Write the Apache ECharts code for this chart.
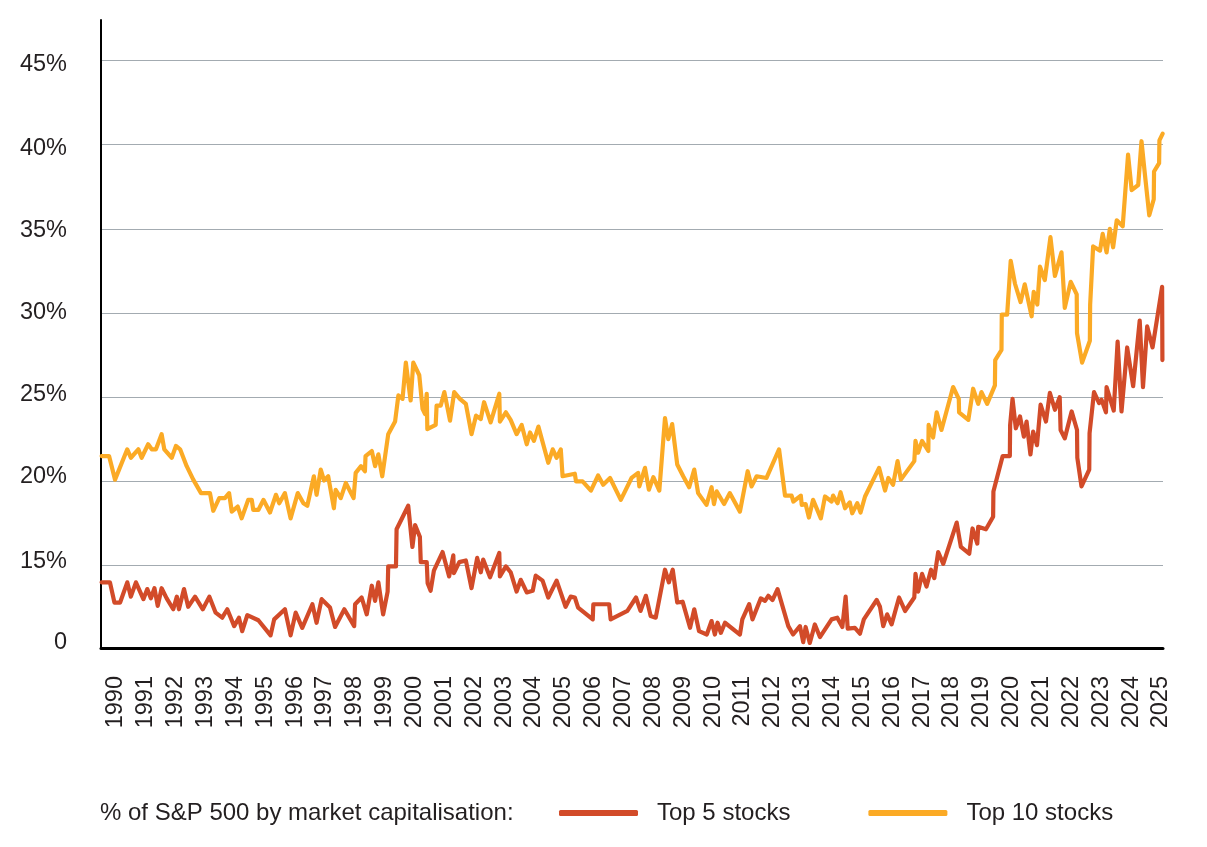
<!DOCTYPE html>
<html>
<head>
<meta charset="utf-8">
<title>S&amp;P 500 concentration</title>
<script src="https://cdn.jsdelivr.net/npm/echarts@6/dist/echarts.min.js"></script>
<style>
  html, body { margin: 0; padding: 0; background: #fff; }
  #chart { width: 1207px; height: 847px; }
</style>
</head>
<body>
<div id="chart"></div>
<script>
// share of S&P 500 market cap (decimal years, %)
const top5Years = [
  1990.02, 1990.30, 1990.45, 1990.64, 1990.88, 1991.00, 1991.17, 1991.42, 1991.55, 1991.67,
  1991.79, 1991.90, 1992.03, 1992.20, 1992.42, 1992.54, 1992.61, 1992.78, 1992.92, 1993.15,
  1993.41, 1993.63, 1993.84, 1994.06, 1994.23, 1994.46, 1994.62, 1994.73, 1994.90, 1995.27,
  1995.68, 1995.80, 1996.16, 1996.35, 1996.52, 1996.74, 1997.08, 1997.22, 1997.39, 1997.67,
  1997.84, 1998.15, 1998.48, 1998.51, 1998.73, 1998.90, 1999.07, 1999.18, 1999.29, 1999.45,
  1999.60, 1999.62, 1999.88, 1999.90, 2000.29, 2000.43, 2000.52, 2000.68, 2000.71, 2000.91,
  2000.94, 2001.04, 2001.15, 2001.44, 2001.66, 2001.80, 2001.82, 2002.00, 2002.22, 2002.41,
  2002.60, 2002.72, 2002.80, 2003.03, 2003.34, 2003.36, 2003.56, 2003.72, 2003.92, 2004.06,
  2004.26, 2004.46, 2004.56, 2004.79, 2004.98, 2005.26, 2005.56, 2005.73, 2005.87, 2005.98,
  2006.47, 2006.49, 2007.02, 2007.07, 2007.63, 2007.92, 2008.07, 2008.25, 2008.41, 2008.58,
  2008.89, 2009.02, 2009.15, 2009.30, 2009.48, 2009.73, 2009.87, 2010.03, 2010.29, 2010.45,
  2010.56, 2010.65, 2010.76, 2010.90, 2011.40, 2011.48, 2011.71, 2011.82, 2012.10, 2012.24,
  2012.35, 2012.49, 2012.66, 2013.02, 2013.18, 2013.41, 2013.52, 2013.60, 2013.74, 2013.91,
  2014.08, 2014.47, 2014.66, 2014.83, 2014.94, 2015.01, 2015.25, 2015.42, 2015.55, 2015.98,
  2016.09, 2016.20, 2016.33, 2016.48, 2016.73, 2016.93, 2017.24, 2017.28, 2017.37, 2017.50,
  2017.65, 2017.80, 2017.91, 2018.04, 2018.21, 2018.66, 2018.80, 2019.08, 2019.19, 2019.35,
  2019.38, 2019.64, 2019.88, 2019.89, 2020.20, 2020.44, 2020.45, 2020.53, 2020.64, 2020.78,
  2020.91, 2021.00, 2021.13, 2021.22, 2021.35, 2021.47, 2021.65, 2021.78, 2021.95, 2022.11,
  2022.14, 2022.28, 2022.51, 2022.69, 2022.70, 2022.84, 2023.10, 2023.11, 2023.26, 2023.43,
  2023.51, 2023.66, 2023.68, 2023.92, 2024.05, 2024.18, 2024.37, 2024.57, 2024.79, 2024.90,
  2025.04, 2025.22, 2025.54, 2025.55
];
const top5Share = [
  14.0, 14.0, 12.8, 12.8, 14.0, 13.15, 14.0, 13.0, 13.6, 13.05,
  13.65, 12.6, 13.65, 13.05, 12.4, 13.15, 12.4, 13.6, 12.55, 13.15,
  12.4, 13.15, 12.2, 11.9, 12.4, 11.4, 11.9, 11.1, 12.05, 11.75,
  10.85, 11.8, 12.4, 10.85, 12.2, 11.3, 12.7, 11.6, 13.0, 12.5,
  11.35, 12.4, 11.4, 12.7, 13.1, 12.1, 13.8, 12.9, 14.0, 12.1,
  13.45, 14.95, 14.95, 17.15, 18.55, 16.1, 17.4, 16.7, 15.2, 15.2,
  13.95, 13.5, 14.7, 15.8, 14.35, 15.6, 14.55, 15.2, 15.3, 13.65,
  15.45, 14.6, 15.35, 14.3, 15.75, 14.35, 14.95, 14.6, 13.45, 14.15,
  13.4, 13.5, 14.4, 14.1, 13.1, 14.1, 12.55, 13.15, 13.1, 12.5,
  11.8, 12.7, 12.7, 11.8, 12.3, 13.1, 12.3, 13.2, 12.0, 11.9,
  14.75, 14.0, 14.75, 12.8, 12.85, 11.3, 12.4, 11.1, 10.9, 11.7,
  10.9, 11.6, 11.0, 11.6, 10.9, 11.8, 12.7, 11.8, 13.05, 12.9,
  13.2, 12.95, 13.6, 11.4, 10.9, 11.4, 10.45, 11.35, 10.4, 11.5,
  10.75, 11.8, 11.9, 11.35, 13.15, 11.25, 11.3, 10.95, 11.8, 12.95,
  12.55, 11.4, 12.1, 11.5, 13.1, 12.3, 13.1, 14.5, 13.45, 14.5,
  13.75, 14.75, 14.25, 15.8, 15.1, 17.55, 16.1, 15.7, 17.2, 16.3,
  17.3, 17.15, 17.9, 19.4, 21.5, 21.5, 23.35, 24.9, 23.15, 23.85,
  22.65, 23.55, 21.6, 22.95, 22.15, 24.55, 23.55, 25.25, 24.25, 25.0,
  23.05, 22.55, 24.15, 23.05, 21.4, 19.7, 20.7, 22.85, 25.3, 24.65,
  24.85, 24.1, 25.6, 24.2, 28.3, 24.15, 27.95, 25.65, 29.55, 25.6,
  29.2, 27.95, 31.55, 27.2
];

const top10Years = [
  1990.02, 1990.27, 1990.47, 1990.88, 1991.00, 1991.25, 1991.36, 1991.58, 1991.70, 1991.84,
  1992.03, 1992.12, 1992.37, 1992.51, 1992.65, 1992.87, 1993.09, 1993.35, 1993.65, 1993.76,
  1993.96, 1994.15, 1994.29, 1994.38, 1994.58, 1994.71, 1994.93, 1995.05, 1995.10, 1995.27,
  1995.44, 1995.66, 1995.86, 1995.97, 1996.16, 1996.35, 1996.59, 1996.78, 1996.91, 1997.13,
  1997.22, 1997.36, 1997.47, 1997.61, 1997.80, 1997.86, 1998.03, 1998.20, 1998.46, 1998.53,
  1998.71, 1998.84, 1998.86, 1999.07, 1999.18, 1999.29, 1999.42, 1999.62, 1999.85, 1999.96,
  2000.10, 2000.21, 2000.37, 2000.46, 2000.66, 2000.77, 2000.85, 2000.91, 2000.93, 2001.21,
  2001.24, 2001.38, 2001.50, 2001.69, 2001.83, 2002.02, 2002.22, 2002.41, 2002.56, 2002.72,
  2002.83, 2003.05, 2003.34, 2003.36, 2003.56, 2003.72, 2003.92, 2004.09, 2004.26, 2004.37,
  2004.50, 2004.65, 2004.98, 2005.13, 2005.26, 2005.40, 2005.46, 2005.87, 2005.91, 2006.13,
  2006.41, 2006.65, 2006.82, 2007.05, 2007.41, 2007.77, 2007.99, 2008.03, 2008.22, 2008.35,
  2008.50, 2008.70, 2008.89, 2009.00, 2009.13, 2009.30, 2009.50, 2009.70, 2009.87, 2010.00,
  2010.28, 2010.45, 2010.53, 2010.62, 2010.87, 2011.06, 2011.40, 2011.66, 2011.79, 2011.96,
  2012.29, 2012.71, 2012.91, 2013.13, 2013.19, 2013.44, 2013.47, 2013.60, 2013.71, 2013.85,
  2014.11, 2014.25, 2014.47, 2014.52, 2014.67, 2014.77, 2014.92, 2015.08, 2015.16, 2015.33,
  2015.44, 2015.59, 2016.06, 2016.26, 2016.37, 2016.53, 2016.68, 2016.79, 2017.24, 2017.28,
  2017.37, 2017.50, 2017.71, 2017.72, 2017.87, 2017.99, 2018.15, 2018.54, 2018.73, 2018.74,
  2019.05, 2019.21, 2019.38, 2019.49, 2019.68, 2019.94, 2019.95, 2020.16, 2020.17, 2020.35,
  2020.47, 2020.61, 2020.80, 2020.94, 2021.17, 2021.24, 2021.36, 2021.45, 2021.61, 2021.80,
  2021.95, 2022.17, 2022.28, 2022.48, 2022.68, 2022.69, 2022.86, 2023.12, 2023.13, 2023.23,
  2023.46, 2023.55, 2023.68, 2023.79, 2023.90, 2024.02, 2024.22, 2024.40, 2024.52, 2024.74,
  2024.85, 2024.96, 2025.11, 2025.26, 2025.27, 2025.44, 2025.45, 2025.56
];
const top10Share = [
  21.5, 21.5, 20.1, 21.9, 21.4, 21.9, 21.4, 22.2, 21.9, 21.9,
  22.8, 21.9, 21.4, 22.1, 21.9, 20.9, 20.1, 19.3, 19.3, 18.25,
  19.0, 19.0, 19.3, 18.2, 18.5, 17.8, 18.9, 18.9, 18.3, 18.3,
  18.9, 18.15, 19.2, 18.7, 19.3, 17.8, 19.3, 18.7, 18.55, 20.3,
  19.2, 20.7, 20.05, 20.3, 18.4, 19.5, 19.0, 19.9, 19.0, 20.5,
  20.9, 20.6, 21.5, 21.8, 20.9, 21.6, 20.3, 22.8, 23.55, 25.1,
  24.9, 27.05, 24.8, 27.05, 26.3, 24.3, 24.0, 25.2, 23.1, 23.35,
  24.5, 24.5, 25.3, 23.6, 25.3, 24.9, 24.6, 22.8, 23.9, 23.7,
  24.7, 23.5, 25.2, 23.55, 24.1, 23.65, 22.8, 23.35, 22.2, 22.9,
  22.4, 23.25, 21.1, 21.9, 21.4, 21.9, 20.3, 20.45, 20.0, 20.0,
  19.45, 20.35, 19.8, 20.2, 18.9, 20.2, 20.5, 19.7, 20.8, 19.5,
  20.25, 19.45, 23.75, 22.5, 23.4, 21.0, 20.3, 19.65, 20.7, 19.3,
  18.6, 19.65, 18.65, 19.4, 18.65, 19.3, 18.2, 20.6, 19.7, 20.3,
  20.2, 21.9, 19.15, 19.15, 18.8, 19.15, 18.6, 18.65, 17.85, 18.9,
  17.8, 19.1, 18.8, 19.15, 18.7, 19.35, 18.4, 18.75, 18.1, 18.7,
  18.15, 19.1, 20.8, 19.45, 20.2, 19.8, 21.2, 20.1, 21.2, 22.4,
  21.7, 22.4, 21.8, 23.35, 22.6, 24.1, 23.05, 25.6, 24.9, 24.1,
  23.65, 25.5, 24.6, 25.3, 24.6, 25.7, 27.2, 27.8, 29.9, 29.9,
  33.1, 31.75, 30.65, 31.7, 29.8, 31.25, 30.5, 32.75, 31.95, 34.5,
  32.2, 33.6, 30.3, 31.85, 31.1, 28.8, 27.05, 28.35, 30.5, 33.95,
  33.7, 34.7, 33.6, 35.0, 33.9, 35.5, 35.15, 39.4, 37.3, 37.6,
  40.2, 38.3, 35.8, 36.75, 38.4, 38.9, 40.25, 40.65
];

// axis labels: one year label per year band, y labels where the picture prints them
const yearLabels = [];
for (let y = 1990; y <= 2025; y++) yearLabels.push(y);
const yGridAt = [15, 20, 25, 30, 35, 40, 45];
const yLabelAt = [10.42, 15.23, 20.27, 25.13, 30.0, 34.91, 39.78, 44.76];
const yLabelText = ['0', '15%', '20%', '25%', '30%', '35%', '40%', '45%'];

const legendTitle = '% of S&P 500 by market capitalisation:';
const seriesNames = ['Top 5 stocks', 'Top 10 stocks'];

const FONT = '"Liberation Sans", Arial, Helvetica, sans-serif';
const TEXT = '#231f20';

function pairs(xs, ys) {
  return xs.map((x, i) => [x, ys[i]]);
}

function nearestLabel(v) {
  let best = 0;
  yLabelAt.forEach((p, i) => {
    if (Math.abs(p - v) < Math.abs(yLabelAt[best] - v)) best = i;
  });
  return yLabelText[best];
}

const chart = echarts.init(document.getElementById('chart'), null, { renderer: 'canvas' });

chart.setOption({
  animation: false,
  backgroundColor: '#fff',
  textStyle: { fontFamily: FONT },
  title: {
    text: legendTitle,
    left: 100,
    top: 801,
    padding: 0,
    textStyle: { fontSize: 24, fontWeight: 'normal', color: TEXT, fontFamily: FONT }
  },
  legend: {
    left: 559,
    top: 801,
    padding: 0,
    icon: 'roundRect',
    itemWidth: 79,
    itemHeight: 6,
    itemGap: 78,
    data: seriesNames,
    textStyle: { fontSize: 24, color: TEXT, fontFamily: FONT, padding: [0, 0, 0, 14] }
  },
  grid: {
    left: 101,
    right: 44,
    top: 20,
    bottom: 199,
    containLabel: false,
    outerBoundsMode: 'none'
  },
  xAxis: {
    type: 'value',
    min: 1990,
    max: 2025.57,
    splitLine: { show: false },
    axisTick: { show: false },
    axisLine: { show: true, lineStyle: { color: '#000', width: 3 } },
    axisLabel: {
      customValues: yearLabels.map(y => y + 0.5),
      formatter: v => String(Math.floor(v)),
      rotate: 90,
      margin: 28,
      fontSize: 23.5,
      color: TEXT,
      fontFamily: FONT
    }
  },
  yAxis: {
    type: 'value',
    min: 10.1,
    max: 47.4,
    axisLine: { show: true, lineStyle: { color: '#000', width: 2 } },
    axisTick: { show: false, customValues: yGridAt },
    splitLine: {
      show: true,
      customValues: yGridAt,
      lineStyle: { color: '#a3abb1', width: 1.2 }
    },
    axisLabel: {
      customValues: yLabelAt,
      formatter: v => nearestLabel(v),
      margin: 34,
      fontSize: 23.5,
      color: TEXT,
      fontFamily: FONT
    }
  },
  series: [
    {
      name: seriesNames[0],
      type: 'line',
      data: pairs(top5Years, top5Share),
      showSymbol: false,
      symbol: 'none',
      color: '#d24b29',
      lineStyle: { width: 4.2, color: '#d24b29', join: 'round', cap: 'round' }
    },
    {
      name: seriesNames[1],
      type: 'line',
      data: pairs(top10Years, top10Share),
      showSymbol: false,
      symbol: 'none',
      color: '#fbaa25',
      lineStyle: { width: 4.2, color: '#fbaa25', join: 'round', cap: 'round' }
    }
  ]
});
</script>
</body>
</html>
